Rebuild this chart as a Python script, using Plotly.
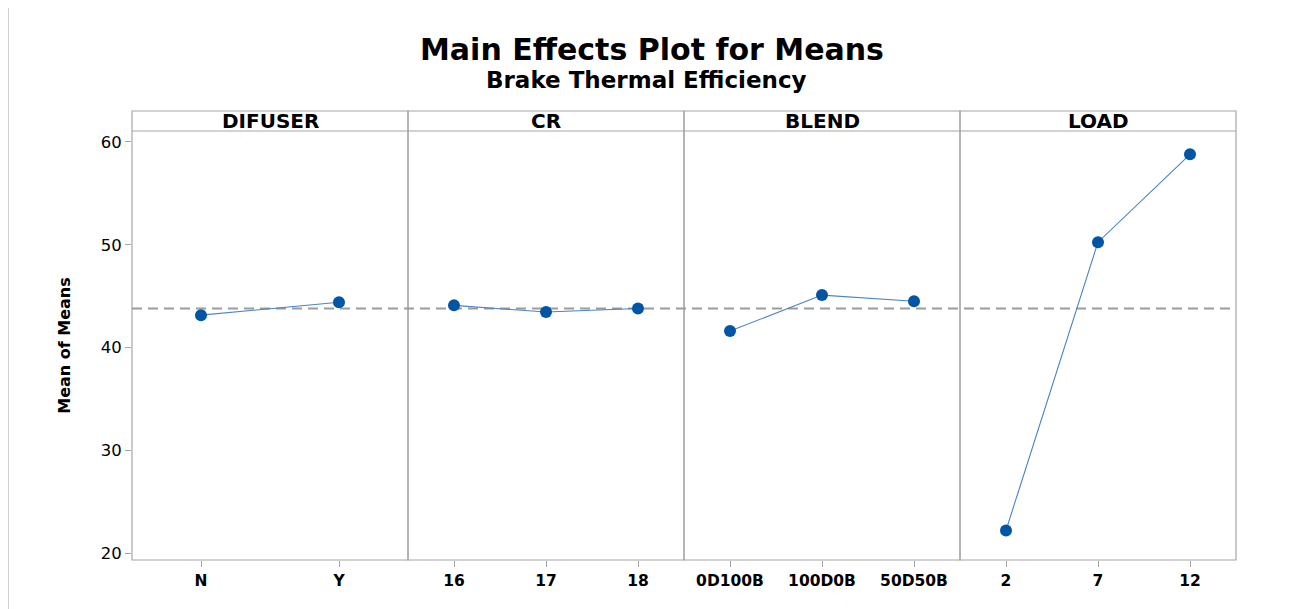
import plotly.graph_objects as go
from plotly.subplots import make_subplots

factors = ["DIFUSER", "CR", "BLEND", "LOAD"]
difuser_levels = ["N", "Y"]
difuser_means = [43.15, 44.4]
cr_levels = ["16", "17", "18"]
cr_means = [44.1, 43.45, 43.8]
blend_levels = ["0D100B", "100D0B", "50D50B"]
blend_means = [41.6, 45.1, 44.5]
load_levels = ["2", "7", "12"]
load_means = [22.2, 50.25, 58.8]
grand_mean = 43.8
y_ticks = [20, 30, 40, 50, 60]

levels = [difuser_levels, cr_levels, blend_levels, load_levels]
means = [difuser_means, cr_means, blend_means, load_means]

FONT = "DejaVu Sans"
GRAY = "#a6a6a6"
strip_bottom = 429 / 449
PW, PH = 1104, 449  # plot area size in px
OX, OY = 132 - 8, 111 - 8  # page offset compensation (body margin 8px)

fig = make_subplots(rows=1, cols=4, shared_yaxes=True, horizontal_spacing=0)

for i, (lv, mv) in enumerate(zip(levels, means)):
    fig.add_trace(go.Scatter(
        x=lv, y=mv, mode="lines+markers",
        line=dict(color="#4a82c6", width=1.1),
        marker=dict(color="#0055a5", size=12, symbol="circle"),
        showlegend=False, hoverinfo="x+y"), row=1, col=i + 1)
    xa = "xaxis" if i == 0 else f"xaxis{i+1}"
    fig.layout[xa].update(
        domain=[i * 0.25, (i + 1) * 0.25],
        type="category", range=[-0.5, len(lv) - 0.5],
        showgrid=False, zeroline=False, showline=False,
        ticks="outside", ticklen=6, tickcolor=GRAY,
        tickfont=dict(family=FONT, size=15.5, color="black", weight="bold"),
    )
    ya = "yaxis" if i == 0 else f"yaxis{i+1}"
    fig.layout[ya].update(
        domain=[0, strip_bottom], range=[19.32, 61.07],
        showgrid=False, zeroline=False, showline=False,
        tickvals=y_ticks,
        ticks="outside" if i == 0 else "", ticklen=6, tickcolor=GRAY,
        showticklabels=(i == 0),
        tickfont=dict(family=FONT, size=16.5, color="black"),
    )
    fig.add_shape(type="rect", xref="paper", yref="paper",
                  x0=i * 0.25, x1=(i + 1) * 0.25, y0=0, y1=1,
                  line=dict(color=GRAY, width=1.2), layer="below")
    fig.add_shape(type="line", xref="paper", yref="paper",
                  x0=i * 0.25, x1=(i + 1) * 0.25, y0=strip_bottom, y1=strip_bottom,
                  line=dict(color=GRAY, width=1.2), layer="below")
    fig.add_annotation(text=f"<b>{factors[i]}</b>", xref="paper", yref="paper",
                       x=i * 0.25 + 0.125, y=(1 + strip_bottom) / 2,
                       showarrow=False, xanchor="center", yanchor="middle",
                       font=dict(family=FONT, size=20, color="black"))

fig.layout.yaxis.title = dict(text="<b>Mean of Means</b>",
                              font=dict(family=FONT, size=16, color="black"),
                              standoff=26)

fig.add_shape(type="line", xref="paper", yref="y",
              x0=0, x1=1, y0=grand_mean, y1=grand_mean,
              line=dict(color="#9c9c9c", width=2, dash="10px,6px"), layer="below")

fig.add_annotation(text="<b>Main Effects Plot for Means</b>", xref="paper", yref="paper",
                   x=(652 - 132) / PW, y=1 + (111 - 50) / PH, showarrow=False,
                   xanchor="center", yanchor="middle",
                   font=dict(family=FONT, size=30, color="black"))
fig.add_annotation(text="<b>Brake Thermal Efficiency</b>", xref="paper", yref="paper",
                   x=(646 - 132) / PW, y=1 + (111 - 80) / PH, showarrow=False,
                   xanchor="center", yanchor="middle",
                   font=dict(family=FONT, size=23, color="black"))

fig.add_shape(type="line", xref="paper", yref="paper",
              x0=(0.5 - OX) / PW, x1=(0.5 - OX) / PW, y0=-60 / PH, y1=1 + 120 / PH,
              line=dict(color="#d0d0d0", width=1))

fig.update_layout(width=1294, height=609,
                  margin=dict(l=OX, r=1294 - OX - PW, t=OY, b=609 - OY - PH),
                  plot_bgcolor="white", paper_bgcolor="white",
                  font=dict(family=FONT))

fig.write_html("out.html")
